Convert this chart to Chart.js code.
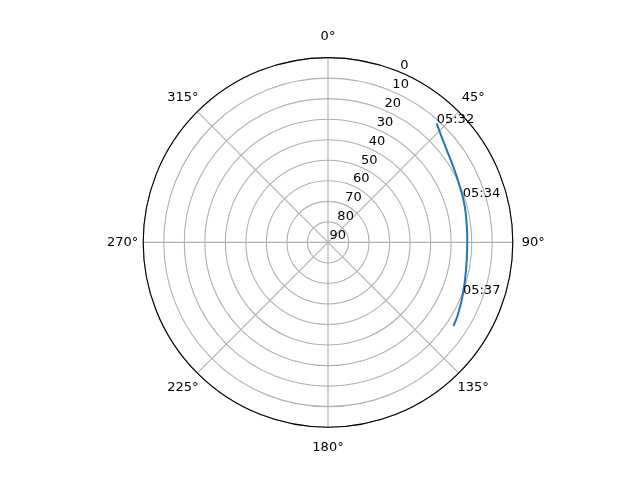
<!DOCTYPE html>
<html>
<head>
<meta charset="utf-8">
<script src="https://cdn.jsdelivr.net/npm/chart.js@4"></script>
<style>
html,body{margin:0;padding:0;background:#fff;}
canvas{display:block;}
</style>
</head>
<body>
<canvas id="c" width="640" height="480"></canvas>
<script>
// Sky track: azimuth (deg, clockwise from north) and elevation (deg)
const azimuth   = [42.4, 48.9, 55.4, 63.0, 69.8, 71.4, 76.0, 82.9, 89.0, 97.2, 105.4, 110.8, 113.3, 119.9, 123.7];
const elevation = [11.5, 15.4, 17.8, 19.6, 20.6, 20.75, 21.2, 21.9, 22.15, 21.9, 20.8, 19.7, 19.1, 17.4, 16.6];
const timeLabels = ['05:32', '', '', '', '', '05:34', '', '', '', '', '', '05:37', '', '', ''];

const angleTicks = [0, 45, 90, 135, 180, 225, 270, 315];
const angleTickLabels = ['0°', '45°', '90°', '135°', '180°', '225°', '270°', '315°'];
const radialTicks = [0, 10, 20, 30, 40, 50, 60, 70, 80, 90];
const radialTickLabels = ['0', '10', '20', '30', '40', '50', '60', '70', '80', '90'];
const radialLabelAngle = 22.5;

const RMAX = 90;
const FONT = '13px "DejaVu Sans"';

function toXY(az, el) {
  const z = RMAX - el;
  const a = az * Math.PI / 180;
  return { x: z * Math.sin(a), y: z * Math.cos(a) };
}

const points = azimuth.map((a, i) => toXY(a, elevation[i]));

function geom(chart) {
  const xs = chart.scales.x, ys = chart.scales.y;
  const cx = xs.getPixelForValue(0), cy = ys.getPixelForValue(0);
  const pr = v => xs.getPixelForValue(v) - cx;
  return { xs, ys, cx, cy, pr };
}

const polarGrid = {
  id: 'polarGrid',
  beforeDatasetsDraw(chart) {
    const ctx = chart.ctx;
    const { xs, ys, cx, cy, pr } = geom(chart);
    ctx.save();
    ctx.strokeStyle = '#b0b0b0';
    ctx.lineWidth = 1.1;
    radialTicks.forEach(e => {
      const z = RMAX - e;
      if (z <= 0) return;
      ctx.beginPath();
      ctx.arc(cx, cy, pr(z), 0, Math.PI * 2);
      ctx.stroke();
    });
    angleTicks.forEach(a => {
      const p = toXY(a, 0);
      ctx.beginPath();
      ctx.moveTo(cx, cy);
      ctx.lineTo(xs.getPixelForValue(p.x), ys.getPixelForValue(p.y));
      ctx.stroke();
    });
    ctx.restore();
  },
  afterDatasetsDraw(chart) {
    const ctx = chart.ctx;
    const { xs, ys, cx, cy, pr } = geom(chart);
    const R = pr(RMAX);
    ctx.save();
    ctx.strokeStyle = '#000';
    ctx.lineWidth = 1.1;
    ctx.beginPath();
    ctx.arc(cx, cy, R, 0, Math.PI * 2);
    ctx.stroke();
    ctx.fillStyle = '#000';
    ctx.font = FONT;
    ctx.textAlign = 'center';
    ctx.textBaseline = 'middle';
    angleTicks.forEach((a, i) => {
      const rad = a * Math.PI / 180;
      const rr = R + 20.5;
      ctx.fillText(angleTickLabels[i], cx + rr * Math.sin(rad), cy - rr * Math.cos(rad));
    });
    ctx.textAlign = 'left';
    ctx.textBaseline = 'alphabetic';
    radialTicks.forEach((e, i) => {
      const p = toXY(radialLabelAngle, e);
      ctx.fillText(radialTickLabels[i], xs.getPixelForValue(p.x) + 1.5, ys.getPixelForValue(p.y) - 3);
    });
    points.forEach((p, i) => {
      if (!timeLabels[i]) return;
      ctx.fillText(timeLabels[i], xs.getPixelForValue(p.x), ys.getPixelForValue(p.y));
    });
    ctx.restore();
  }
};

new Chart(document.getElementById('c'), {
  type: 'scatter',
  data: {
    datasets: [{
      data: points,
      showLine: true,
      borderColor: '#1f77b4',
      backgroundColor: '#1f77b4',
      borderWidth: 2,
      pointRadius: 0,
      tension: 0.2,
      fill: false
    }]
  },
  options: {
    responsive: false,
    devicePixelRatio: 1,
    animation: false,
    events: [],
    layout: { padding: { left: 143.2, right: 127.2, top: 57.6, bottom: 52.8 } },
    plugins: { legend: { display: false }, tooltip: { enabled: false }, title: { display: false } },
    scales: {
      x: { type: 'linear', min: -RMAX, max: RMAX, display: false },
      y: { type: 'linear', min: -RMAX, max: RMAX, display: false }
    }
  },
  plugins: [polarGrid]
});
</script>
</body>
</html>
